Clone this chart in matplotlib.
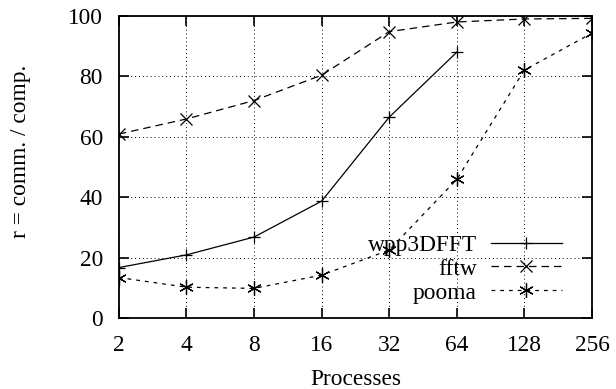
import matplotlib.pyplot as plt

plt.rcParams["font.family"] = "Liberation Serif"
plt.rcParams["font.size"] = 16.8

procs = [2, 4, 8, 16, 32, 64, 128, 256]
wpp = [16.7, 20.9, 26.8, 38.7, 66.5, 88.0]
fftw = [60.9, 65.9, 72.0, 80.4, 94.8, 98.0, 99.0, 99.2]
pooma = [13.4, 10.2, 9.8, 14.2, 22.5, 45.9, 82.1, 94.3]

fig = plt.figure(figsize=(6.16, 3.89), dpi=100)
ax = fig.add_axes([0.193, 0.1825, 0.768, 0.7765])

ax.plot(procs[:len(wpp)], wpp, "-", color="black", lw=0.9,
        marker="+", ms=9, mew=0.9, label="wpp3DFFT")
ax.plot(procs, fftw, color="black", lw=0.9, ls=(0, (6, 4)),
        marker="x", ms=8, mew=0.9, label="fftw")
ax.plot(procs, pooma, color="black", lw=0.9, ls=(0, (3, 4)),
        marker=(6, 2, 0), ms=10.5, mew=0.9, label="pooma")

ax.set_xscale("log", base=2)
ax.set_xlim(2, 256)
ax.set_ylim(0, 100)
ax.set_xticks(procs)
ax.set_xticklabels([str(p) for p in procs])
ax.minorticks_off()
ax.set_yticks(range(0, 101, 20))

ax.grid(True, color="black", ls=(0, (1, 3)), lw=0.7)
ax.tick_params(direction="in", length=7, width=1.2, top=True, right=True)
ax.tick_params(axis="x", pad=12)
ax.tick_params(axis="y", pad=11.5)
for s in ax.spines.values():
    s.set_linewidth(1.3)

ax.set_xlabel("Processes", va="center")
ax.xaxis.set_label_coords(0.5, -0.202)
ax.set_ylabel("r = comm. / comp.", va="center")
ax.yaxis.set_label_coords(-0.207, 0.553)

ax.legend(loc="lower right", bbox_to_anchor=(0.9366, 0.048), frameon=False,
          markerfirst=False, handlelength=3.05, handletextpad=0.6,
          labelspacing=0.11, borderaxespad=0, borderpad=0)

fig.savefig("out.png", dpi=100)
